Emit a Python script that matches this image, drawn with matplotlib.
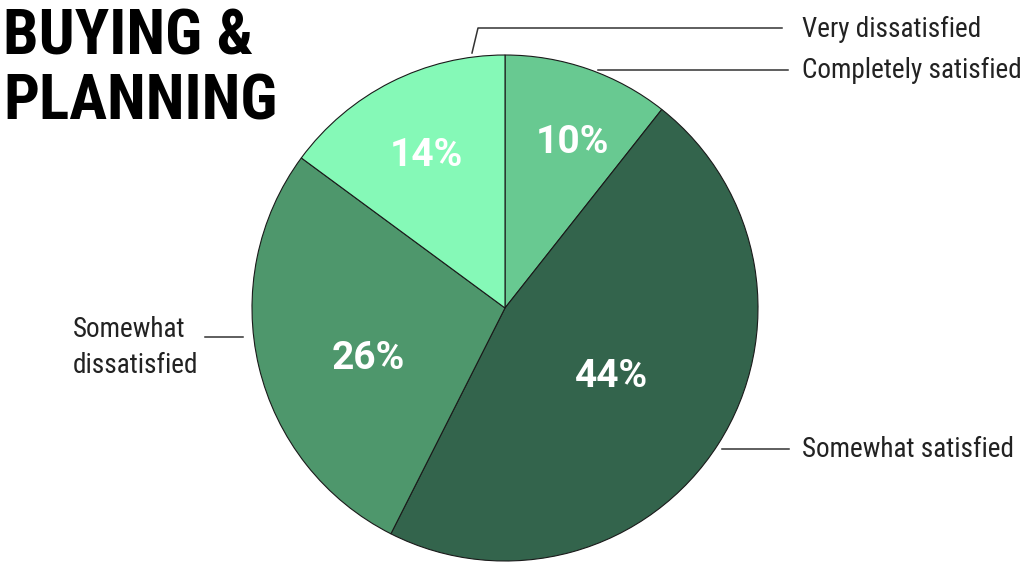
import os
import numpy as np
import matplotlib
matplotlib.use("Agg")
import matplotlib.pyplot as plt
from matplotlib import font_manager as fm

# Data
categories = ["Completely satisfied", "Somewhat satisfied", "Somewhat dissatisfied", "Very dissatisfied"]
values = [10, 44, 26, 14]
pct_labels = ["10%", "44%", "26%", "14%"]
colors = ["#68C991", "#33644C", "#4E976C", "#85F9B7"]
title = "BUYING &\nPLANNING"

# Find condensed / regular fonts if installed
files = list(fm.findSystemFonts()) + [f.fname for f in fm.fontManager.ttflist]


def find(cands):
    for c in cands:
        for f in files:
            if os.path.basename(f).lower().startswith(c.lower()):
                return f
    return None


cond_bold = find(["LiberationSansNarrow-Bold.", "RobotoCondensed-Bold.", "Roboto_Condensed-Bold",
                  "NotoSans-CondensedBold.", "DejaVuSansCondensed-Bold."])
cond_reg = find(["LiberationSansNarrow-Regular.", "RobotoCondensed-Regular.", "Roboto_Condensed-Regular",
                 "NotoSans-Condensed.", "DejaVuSansCondensed."])
plain_bold = find(["Roboto-Bold.", "LiberationSans-Bold."])


def fp(f, size, bold):
    if f:
        return fm.FontProperties(fname=f, size=size)
    return fm.FontProperties(family="DejaVu Sans", weight="bold" if bold else "normal", size=size)


W, H = 1024, 564
fig = plt.figure(figsize=(W / 100, H / 100), dpi=100)
ax = fig.add_axes([0, 0, 1, 1])

cx, cy, R = 505, 308, 253
wedges, _ = ax.pie(values, colors=colors, startangle=-90, counterclock=True,
                   center=(cx, cy), radius=R, frame=True,
                   wedgeprops=dict(edgecolor="#1a1a1a", linewidth=0.8))
ax.set_xlim(0, W)
ax.set_ylim(H, 0)
ax.set_aspect("equal")
ax.axis("off")

# percentage labels placed along each wedge's mid-angle
label_dist = [0.72, 0.493, 0.571, 0.691]
angle_shift = [2.7, -1.1, -5.5, 0.2]
for w, lab, d, s in zip(wedges, pct_labels, label_dist, angle_shift):
    ang = np.deg2rad((w.theta1 + w.theta2) / 2 + s)
    x = cx + d * R * np.cos(ang)
    y = cy + d * R * np.sin(ang) + 14
    ax.text(x, y, lab, ha="center", va="baseline", color="white",
            fontproperties=fp(plain_bold, 28, True))

# Title (baseline of the last line)
ax.text(3, 119, title, ha="left", va="baseline", fontproperties=fp(cond_bold, 45.5, True),
        color="black", linespacing=1.10)

lc = "#333333"
lw = 1.1
tc = "#222222"
fs = 19.5
# Very dissatisfied
ax.plot([472, 478, 782], [53, 28, 28], color=lc, lw=lw)
ax.text(802, 37, categories[3], ha="left", va="baseline", fontproperties=fp(cond_reg, fs, False), color=tc)
# Completely satisfied
ax.plot([598, 788], [70, 70], color=lc, lw=lw)
ax.text(802, 78, categories[0], ha="left", va="baseline", fontproperties=fp(cond_reg, fs, False), color=tc)
# Somewhat satisfied
ax.plot([722, 789], [449, 449], color=lc, lw=lw)
ax.text(802, 457, categories[1], ha="left", va="baseline", fontproperties=fp(cond_reg, fs, False), color=tc)
# Somewhat dissatisfied (two lines)
ax.plot([205, 243], [337, 337], color=lc, lw=lw)
ax.text(73, 337, "Somewhat", ha="left", va="baseline", fontproperties=fp(cond_reg, fs, False), color=tc)
ax.text(73, 373, "dissatisfied", ha="left", va="baseline", fontproperties=fp(cond_reg, fs, False), color=tc)

fig.savefig("out.png", dpi=100)
